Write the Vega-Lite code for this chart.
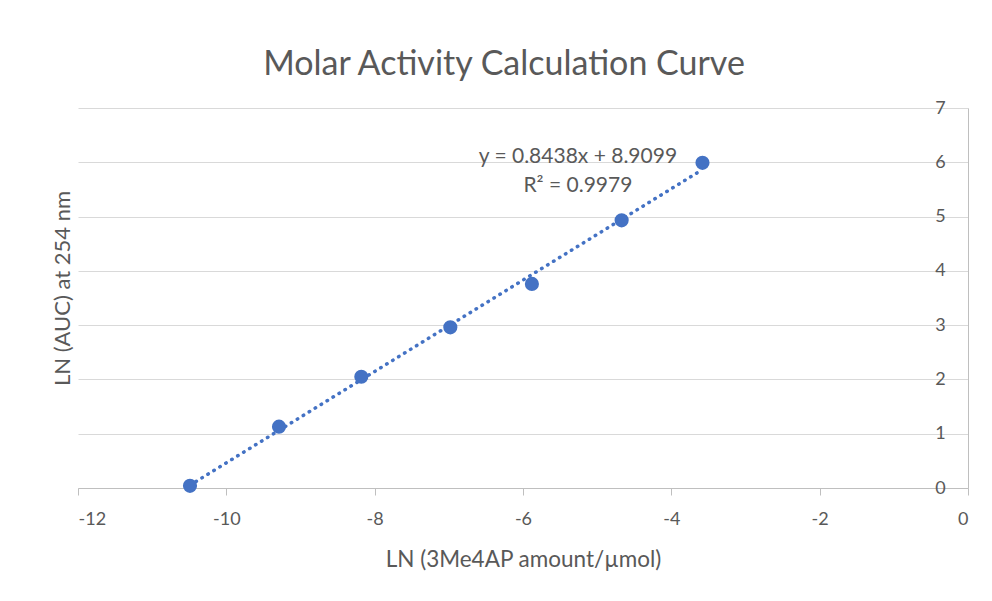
{
  "$schema": "https://vega.github.io/schema/vega-lite/v6.json",
  "autosize": "none",
  "width": 890,
  "height": 380,
  "padding": {"left": 78, "top": 108, "right": 24, "bottom": 113},
  "background": "white",
  "config": {"view": {"stroke": null}, "font": "Lato"},
  "title": {
    "text": "Molar Activity Calculation Curve",
    "fontSize": 34,
    "fontWeight": "normal",
    "color": "#595959",
    "font": "Lato",
    "anchor": "middle",
    "dx": -19,
    "offset": 17
  },
  "data": {
    "values": [
      {"x": -10.49, "y": 0.04},
      {"x": -9.29, "y": 1.13},
      {"x": -8.18, "y": 2.05},
      {"x": -6.98, "y": 2.96},
      {"x": -5.88, "y": 3.76},
      {"x": -4.67, "y": 4.93},
      {"x": -3.58, "y": 5.99}
    ]
  },
  "layer": [
    {
      "transform": [{"regression": "y", "on": "x", "method": "linear"}],
      "mark": {"type": "line", "color": "#4472C4", "strokeWidth": 3.5, "strokeDash": [0.5, 6.5], "strokeCap": "round"},
      "encoding": {
        "x": {
          "field": "x",
          "type": "quantitative",
          "scale": {"domain": [-12, 0], "nice": false, "zero": false},
          "axis": {
            "orient": "bottom",
            "values": [-12, -10, -8, -6, -4, -2, 0],
            "labelExpr": "toString(datum.value)",
            "grid": false,
            "domainColor": "#bfbfbf",
            "tickColor": "#bfbfbf",
            "tickSize": 7,
            "labelPadding": 15,
            "labelFontSize": 18,
            "labelColor": "#595959",
            "labelFont": "Lato",
            "title": "LN (3Me4AP amount/µmol)",
            "titleFontSize": 22.5,
            "titleFontWeight": "normal",
            "titleColor": "#595959",
            "titleFont": "Lato",
            "titlePadding": 20
          }
        },
        "y": {
          "field": "y",
          "type": "quantitative",
          "scale": {"domain": [0, 7], "nice": false},
          "axis": {
            "orient": "right",
            "values": [0, 1, 2, 3, 4, 5, 6, 7],
            "labelExpr": "toString(datum.value)",
            "grid": true,
            "gridColor": "#d9d9d9",
            "domainColor": "#bfbfbf",
            "ticks": false,
            "tickSize": 0,
            "labelAlign": "center",
            "labelPadding": -28,
            "labelFontSize": 18,
            "labelColor": "#595959",
            "labelFont": "Lato",
            "title": "LN (AUC) at 254 nm",
            "titleX": -906,
            "titleY": 180,
            "titleAngle": 270,
            "titleAlign": "center",
            "titleBaseline": "middle",
            "titleFontSize": 22,
            "titleFontWeight": "normal",
            "titleColor": "#595959",
            "titleFont": "Lato"
          }
        }
      }
    },
    {
      "mark": {"type": "point", "filled": true, "size": 200, "color": "#4472C4", "opacity": 1},
      "encoding": {
        "x": {"field": "x", "type": "quantitative"},
        "y": {"field": "y", "type": "quantitative"}
      }
    },
    {
      "data": {"values": [{}]},
      "mark": {"type": "text", "align": "center", "baseline": "middle", "fontSize": 21, "lineHeight": 29, "color": "#595959", "font": "Lato"},
      "encoding": {
        "x": {"datum": -5.26},
        "y": {"datum": 6.09},
        "text": {"value": ["y = 0.8438x + 8.9099", "R² = 0.9979"]}
      }
    }
  ]
}
